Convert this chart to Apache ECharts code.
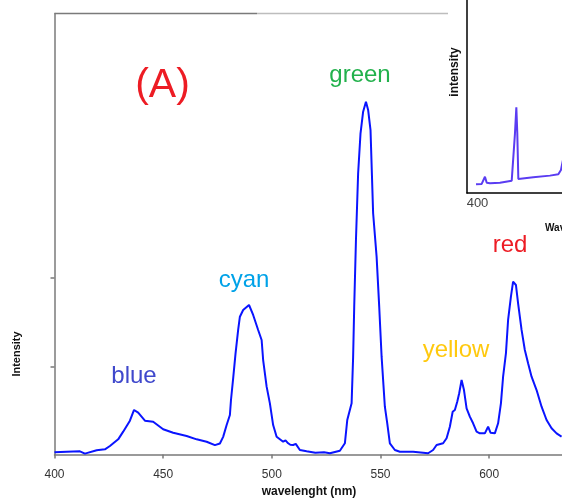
<!DOCTYPE html>
<html><head><meta charset="utf-8">
<script src="https://cdn.jsdelivr.net/npm/echarts@6/dist/echarts.min.js"></script>
<style>html,body{margin:0;padding:0;background:#fff}#c{width:562px;height:500px}</style>
</head><body><div id="c"></div>
<script>
// main spectrum
const wavelength = [400,405.6,411.7,414,419.4,423.2,425.5,429.3,431.6,434.7,436.6,438.5,441.6,445.4,450,454.6,460.8,465.4,470,473.8,476.1,477.6,479.2,480.7,481.2,482.2,483.3,484.5,485.3,486.8,489.5,491.4,493.7,495.3,496,497.6,499.1,500.6,502.2,505.2,506.3,507.5,508.5,509.8,511,512.9,516,520,524,526.7,531.3,533.6,534.7,536.7,537.4,537.9,538.7,539.7,540.8,542,543.3,544.3,545.4,546.6,548.2,549.4,550.5,552,553.1,554.3,556.6,558.9,565,571.9,574.2,575.8,578.8,580.4,581.9,583.2,584.2,585.3,586.2,587.3,588.4,589.6,591.1,592.6,594.2,595.7,598,599.5,600.6,602.6,604.1,605.4,606.4,607.7,608.7,610,611,612.3,613.3,614.9,616.4,617.9,619.5,621.8,624.1,626.4,628.7,631,633.3];
const intensity = [0.025,0.032,0.036,0.01,0.048,0.059,0.096,0.172,0.259,0.383,0.505,0.474,0.383,0.372,0.286,0.247,0.21,0.172,0.145,0.106,0.125,0.2,0.334,0.448,0.618,0.864,1.147,1.412,1.562,1.638,1.695,1.582,1.412,1.298,1.071,0.769,0.58,0.334,0.202,0.145,0.16,0.127,0.11,0.108,0.12,0.051,0.036,0.02,0.025,0.014,0.043,0.127,0.391,0.58,1.109,1.676,2.432,3.188,3.642,3.887,4.0,3.906,3.679,2.735,2.243,1.676,1.109,0.542,0.354,0.127,0.051,0.032,0.032,0.014,0.051,0.108,0.127,0.184,0.315,0.485,0.505,0.599,0.694,0.845,0.731,0.524,0.429,0.354,0.259,0.24,0.24,0.315,0.247,0.24,0.354,0.58,0.882,1.147,1.525,1.789,1.959,1.922,1.714,1.412,1.185,1.034,0.882,0.731,0.542,0.391,0.297,0.24,0.202];
const xTickLabels = [400,450,500,550,600];
const yTickValues = [1,2];
// inset spectrum
const insetWavelength = [398.6,404,405.5,407.1,408.8,411.9,421.4,432.6,434.1,435.7,437,437.9,438.9,453.1,469,477,479.5,481.4];
const insetIntensity = [4.5,4.7,5.3,8.4,5.3,5.0,5.3,6.4,7.1,30.9,44.4,31.1,7.3,8.1,9.0,9.7,11.9,17];
const insetTickLabels = [400];
// annotations
const labels = [
  {text:'(A)', x:162.5, y:86, size:41, color:'#ED1C24'},
  {text:'green', x:360, y:75, size:24, color:'#22B14C'},
  {text:'cyan', x:244, y:280, size:24, color:'#00A2E8'},
  {text:'blue', x:134, y:376, size:24, color:'#3F48CC'},
  {text:'yellow', x:456, y:350, size:24, color:'#FFC90E'},
  {text:'red', x:510, y:245, size:24, color:'#ED1C24'}
];

const FONT = '"Liberation Sans", Arial, sans-serif';
const chart = echarts.init(document.getElementById('c'), null, {renderer:'canvas'});
const mainData = wavelength.map((w,i)=>[w,intensity[i]]);
const insetData = insetWavelength.map((w,i)=>[w,insetIntensity[i]]);

const graphics = labels.map(l=>({
  type:'text', left:null, x:l.x, y:l.y, z:50,
  style:{text:l.text, fill:l.color, font:`${l.size}px ${FONT}`, align:'center', verticalAlign:'middle'}
}));
graphics.push(
  {type:'line', z:5, shape:{x1:54.5,y1:13.5,x2:257,y2:13.5}, style:{stroke:'#7a7a7a', lineWidth:1.5}},
  {type:'line', z:5, shape:{x1:257,y1:13.5,x2:448,y2:13.5}, style:{stroke:'#bdbdbd', lineWidth:1.5}},
  {type:'text', x:17, y:354, rotation:Math.PI/2, z:50,
   style:{text:'Intensity', fill:'#111', font:`bold 11px ${FONT}`, align:'center', verticalAlign:'middle'}},
  {type:'text', x:309, y:492, z:50,
   style:{text:'wavelenght (nm)', fill:'#111', font:`bold 12px ${FONT}`, align:'center', verticalAlign:'middle'}},
  {type:'text', x:455, y:72, rotation:Math.PI/2, z:50,
   style:{text:'intensity', fill:'#111', font:`bold 12px ${FONT}`, align:'center', verticalAlign:'middle'}},
  {type:'text', x:545, y:228, z:50,
   style:{text:'Wavelength (nm)', fill:'#111', font:`bold 10px ${FONT}`, align:'left', verticalAlign:'middle'}}
);

chart.setOption({
  animation:false,
  backgroundColor:'#fff',
  grid:[
    {left:54.5, right:0, top:13.5, bottom:45.5},
    {left:467, right:0, top:0, bottom:307}
  ],
  xAxis:[
    {type:'value', gridIndex:0, min:400, max:633.5, interval:50,
     axisLine:{lineStyle:{color:'#7a7a7a', width:1.5}},
     axisTick:{length:4, lineStyle:{color:'#7a7a7a', width:1.5}, customValues:xTickLabels},
     axisLabel:{color:'#333', fontSize:12, fontFamily:FONT, margin:14, customValues:xTickLabels,
       formatter:v=> (v%50===0 ? String(v) : '')},
     splitLine:{show:false}},
    {type:'value', gridIndex:1, min:390, max:480.5, interval:10,
     axisLine:{lineStyle:{color:'#000', width:1.5}},
     axisTick:{show:false},
     axisLabel:{color:'#444', fontSize:13, fontFamily:FONT, margin:4, customValues:insetTickLabels,
       formatter:v=> (v===400 ? '400' : '')},
     splitLine:{show:false}}
  ],
  yAxis:[
    {type:'value', gridIndex:0, min:0, max:5, interval:1,
     axisLine:{show:true, lineStyle:{color:'#7a7a7a', width:1.5}},
     axisTick:{show:true, length:4, lineStyle:{color:'#7a7a7a', width:1.5}, customValues:yTickValues},
     axisLabel:{show:false},
     splitLine:{show:false}},
    {type:'value', gridIndex:1, min:0, max:100,
     axisLine:{show:true, lineStyle:{color:'#000', width:1.5}},
     axisTick:{show:false}, axisLabel:{show:false}, splitLine:{show:false}}
  ],
  series:[
    {type:'line', xAxisIndex:0, yAxisIndex:0, data:mainData, showSymbol:false,
     lineStyle:{color:'#0a14ff', width:2}, clip:true},
    {type:'line', xAxisIndex:1, yAxisIndex:1, data:insetData, showSymbol:false,
     lineStyle:{color:'#5a3cf2', width:2}, clip:true}
  ],
  graphic:graphics
});
</script></body></html>
